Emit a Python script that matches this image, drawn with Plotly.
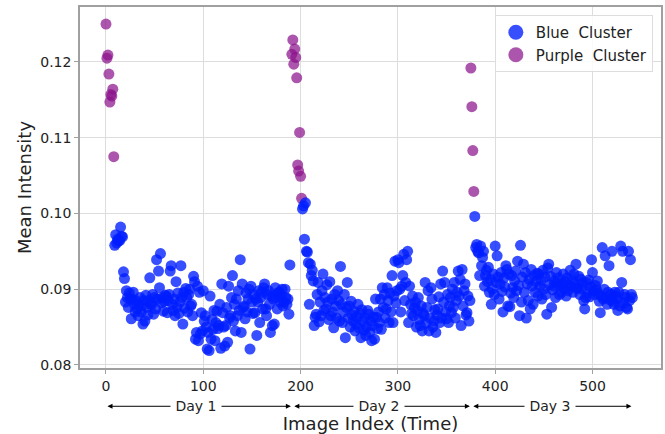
import plotly.graph_objects as go

# ---------------- data ----------------
day1_start = 9
day1_blue = [
    0.0958, 0.0972, 0.0961, 0.0966, 0.0964, 0.0964, 0.0982, 0.0970, 0.0969, 0.0923,
    0.0914, 0.0883, 0.0898, 0.0889, 0.0876, 0.0895, 0.0887, 0.0861, 0.0887, 0.0896,
    0.0880, 0.0870, 0.0885, 0.0874, 0.0865, 0.0880, 0.0889, 0.0870, 0.0878, 0.0854,
    0.0885, 0.0858, 0.0892, 0.0876, 0.0866, 0.0885, 0.0915, 0.0880, 0.0880, 0.0893,
    0.0867, 0.0889, 0.0874, 0.0939, 0.0887, 0.0924, 0.0902, 0.0947, 0.0882, 0.0889,
    0.0871, 0.0884, 0.0892, 0.0891, 0.0869, 0.0885, 0.0893, 0.0924, 0.0931,
    0.0880, 0.0872, 0.0887, 0.0865, 0.0910, 0.0876, 0.0895, 0.0868, 0.0883, 0.0931,
    0.0889, 0.0854, 0.0896, 0.0875, 0.0901, 0.0889, 0.0870, 0.0893, 0.0900, 0.0878,
    0.0880, 0.0865, 0.0917, 0.0910, 0.0834, 0.0843, 0.0904, 0.0832, 0.0896, 0.0841,
    0.0869, 0.0845, 0.0898, 0.0858, 0.0865, 0.0850, 0.0821, 0.0843, 0.0819, 0.0891,
    0.0834, 0.0860, 0.0847, 0.0872, 0.0832, 0.0856, 0.0871, 0.0848, 0.0852, 0.0880,
    0.0822, 0.0907, 0.0869, 0.0850, 0.0825, 0.0852, 0.0876, 0.0830, 0.0904,
    0.0862, 0.0865, 0.0889, 0.0918, 0.0858, 0.0880, 0.0845, 0.0887, 0.0865, 0.0898,
    0.0872, 0.0939, 0.0843, 0.0907, 0.0876, 0.0878, 0.0861, 0.0895, 0.0870, 0.0887,
    0.0900, 0.0821, 0.0904, 0.0883, 0.0868, 0.0893, 0.0869, 0.0887, 0.0839, 0.0883,
    0.0898, 0.0856, 0.0889, 0.0896, 0.0874, 0.0902, 0.0907, 0.0874, 0.0865, 0.0893,
    0.0898, 0.0880, 0.0843, 0.0891, 0.0852, 0.0887, 0.0854, 0.0902, 0.0889,
    0.0874, 0.0895, 0.0896, 0.0883, 0.0891, 0.0900, 0.0878, 0.0883, 0.0900, 0.0889,
    0.0880, 0.0887, 0.0867, 0.0932,
]

day2_start = 202
day2_blue = [
    0.1006, 0.1010, 0.0966, 0.1014, 0.0950, 0.0949, 0.0935, 0.0880, 0.0933, 0.0918,
    0.0925, 0.0911, 0.0852, 0.0863, 0.0867, 0.0893, 0.0909, 0.0857, 0.0883, 0.0865,
    0.0898, 0.0920, 0.0872, 0.0889, 0.0874, 0.0906, 0.0883, 0.0860, 0.0910, 0.0865,
    0.0887, 0.0870, 0.0849, 0.0893, 0.0878, 0.0862, 0.0898, 0.0885, 0.0858,
    0.0930, 0.0880, 0.0856, 0.0870, 0.0893, 0.0836, 0.0876, 0.0909, 0.0862, 0.0878,
    0.0850, 0.0884, 0.0866, 0.0858, 0.0871, 0.0845, 0.0854, 0.0863, 0.0880, 0.0849,
    0.0868, 0.0836, 0.0873, 0.0858, 0.0846, 0.0862, 0.0839, 0.0850, 0.0872, 0.0867,
    0.0843, 0.0858, 0.0832, 0.0852, 0.0863, 0.0834, 0.0887, 0.0863, 0.0848, 0.0870,
    0.0856, 0.0887, 0.0847, 0.0902, 0.0876, 0.0893, 0.0862, 0.0874, 0.0902,
    0.0885, 0.0856, 0.0895, 0.0870, 0.0918, 0.0856, 0.0891, 0.0937, 0.0882, 0.0898,
    0.0939, 0.0935, 0.0900, 0.0870, 0.0904, 0.0918, 0.0946, 0.0885, 0.0909, 0.0939,
    0.0950, 0.0856, 0.0904, 0.0880, 0.0868, 0.0891, 0.0865, 0.0876, 0.0883, 0.0850,
    0.0872, 0.0889, 0.0860, 0.0852, 0.0878, 0.0845, 0.0868, 0.0865, 0.0909, 0.0855,
    0.0876, 0.0898, 0.0845, 0.0862, 0.0902, 0.0887, 0.0850, 0.0858, 0.0873, 0.0843,
    0.0866, 0.0874, 0.0890, 0.0856, 0.0907, 0.0862, 0.0924, 0.0883, 0.0909,
    0.0870, 0.0861, 0.0893, 0.0856, 0.0878, 0.0889, 0.0869, 0.0900, 0.0876, 0.0909,
    0.0862, 0.0885, 0.0896, 0.0924, 0.0891, 0.0913, 0.0852, 0.0926, 0.0878, 0.0898,
    0.0907, 0.0866, 0.0869, 0.0891, 0.0858, 0.0885,
]

day3_start = 379
day3_blue = [
    0.0996, 0.0955, 0.0959, 0.0950, 0.0948, 0.0918, 0.0957, 0.0931, 0.0942, 0.0950,
    0.0904, 0.0918, 0.0925, 0.0910, 0.0929, 0.0896, 0.0913, 0.0880, 0.0900, 0.0920,
    0.0893, 0.0957, 0.0909, 0.0944, 0.0916, 0.0887, 0.0907, 0.0922, 0.0897, 0.0870,
    0.0915, 0.0903, 0.0931, 0.0926, 0.0878, 0.0920, 0.0877, 0.0895, 0.0918,
    0.0902, 0.0889, 0.0911, 0.0924, 0.0898, 0.0937, 0.0905, 0.0865, 0.0958, 0.0883,
    0.0916, 0.0933, 0.0896, 0.0922, 0.0862, 0.0907, 0.0885, 0.0913, 0.0874, 0.0926,
    0.0904, 0.0880, 0.0918, 0.0896, 0.0910, 0.0921, 0.0891, 0.0920, 0.0904, 0.0912,
    0.0887, 0.0925, 0.0900, 0.0916, 0.0893, 0.0867, 0.0928, 0.0933, 0.0906, 0.0917,
    0.0876, 0.0899, 0.0904, 0.0911, 0.0889, 0.0922, 0.0908, 0.0915, 0.0893,
    0.0905, 0.0896, 0.0907, 0.0920, 0.0900, 0.0910, 0.0891, 0.0915, 0.0898, 0.0904,
    0.0925, 0.0904, 0.0912, 0.0896, 0.0920, 0.0908, 0.0933, 0.0901, 0.0902, 0.0917,
    0.0893, 0.0913, 0.0900, 0.0908, 0.0885, 0.0874, 0.0889, 0.0909, 0.0896, 0.0912,
    0.0890, 0.0903, 0.0939, 0.0922, 0.0898, 0.0893, 0.0905, 0.0899, 0.0911,
    0.0894, 0.0884, 0.0869, 0.0891, 0.0955, 0.0887, 0.0900, 0.0944, 0.0889, 0.0880,
    0.0896, 0.0931, 0.0886, 0.0893, 0.0950, 0.0884, 0.0880, 0.0896, 0.0891, 0.0887,
    0.0872, 0.0896, 0.0878, 0.0957, 0.0909, 0.0950, 0.0882, 0.0893, 0.0889, 0.0876,
    0.0874, 0.0950, 0.0885, 0.0939, 0.0893, 0.0889,
]

purple_x = [0, 1, 2, 3, 4, 5, 6, 7, 8,
            191, 192, 193, 194, 195, 196, 197, 198, 199, 200, 201,
            375, 376, 377, 378]
purple_y = [0.1250, 0.1205, 0.1209, 0.1184, 0.1147, 0.1157, 0.1155, 0.1164, 0.1075,
            0.1210, 0.1229, 0.1197, 0.1217, 0.1206, 0.1179, 0.1064, 0.1056, 0.1107, 0.1049, 0.1020,
            0.1192, 0.1141, 0.1083, 0.1029]

day_labels = ["Day 1", "Day 2", "Day 3"]
day_bounds = [(0, 190), (192, 374), (376, 540)]

x_ticks = [0, 100, 200, 300, 400, 500]
y_ticks = [0.08, 0.09, 0.10, 0.11, 0.12]

# ---------------- figure ----------------
blue_x, blue_y = [], []
for start, vals in [(day1_start, day1_blue), (day2_start, day2_blue), (day3_start, day3_blue)]:
    blue_x += [start + i for i in range(len(vals))]
    blue_y += vals

BLUE = "rgba(0,30,255,0.78)"
PURPLE = "rgba(140,20,140,0.72)"
FONT = "DejaVu Sans"

fig = go.Figure()
fig.add_trace(go.Scatter(x=purple_x, y=purple_y, mode="markers",
                         marker=dict(size=11, color=PURPLE, line=dict(width=0)),
                         showlegend=False, hoverinfo="skip"))
fig.add_trace(go.Scatter(x=blue_x, y=blue_y, mode="markers",
                         marker=dict(size=11, color=BLUE, line=dict(width=0)),
                         showlegend=False, hoverinfo="skip"))
# legend entries (larger symbols as in the reference)
fig.add_trace(go.Scatter(x=[None], y=[None], mode="markers", name="Blue  Cluster",
                         marker=dict(size=15, color=BLUE), legendrank=1))
fig.add_trace(go.Scatter(x=[None], y=[None], mode="markers", name="Purple  Cluster",
                         marker=dict(size=15, color=PURPLE), legendrank=2))

annotations = []
arrow_y = -0.106
for label, (a, b) in zip(day_labels, day_bounds):
    annotations.append(dict(x=b, y=arrow_y, xref="x", yref="paper",
                            ax=a, ay=0, axref="x", ayref="pixel",
                            text="", showarrow=True, arrowhead=2, startarrowhead=2,
                            arrowside="end+start", arrowsize=1, startarrowsize=1,
                            arrowwidth=1, arrowcolor="black"))
for label, (a, b) in zip(day_labels, day_bounds):
    annotations.append(dict(x=(a + b) / 2 - 2, y=arrow_y, xref="x", yref="paper",
                            xanchor="center", yanchor="middle",
                            text="\u00a0" + label + "\u00a0", showarrow=False,
                            bgcolor="white", borderpad=0,
                            font=dict(family=FONT, size=14, color="#222")))

axis_common = dict(showgrid=True, gridcolor="#dddddd", gridwidth=1,
                   showline=True, linecolor="#a0a0a0", linewidth=1.5, mirror=True,
                   ticks="outside", ticklen=4, tickcolor="#a0a0a0",
                   zeroline=False, automargin=False,
                   tickfont=dict(family=FONT, size=14, color="#222"))

fig.update_layout(
    width=665, height=434,
    margin=dict(l=80, r=4, t=7, b=66),
    paper_bgcolor="white", plot_bgcolor="white",
    font=dict(family=FONT, color="#222"),
    xaxis=dict(range=[-26.7, 570.4], tickvals=x_ticks,
               title=dict(text="Image Index (Time)", font=dict(family=FONT, size=18, color="#222"),
                          standoff=34),
               **axis_common),
    yaxis=dict(range=[0.0796, 0.12725], tickvals=y_ticks, tickformat=".2f",
               title=dict(text="Mean Intensity", font=dict(family=FONT, size=18, color="#222"),
                          standoff=4),
               **axis_common),
    legend=dict(x=0.986, y=0.978, xanchor="right", yanchor="top",
                bgcolor="rgba(255,255,255,0.85)", bordercolor="#dddddd", borderwidth=1,
                font=dict(family=FONT, size=15, color="#222")),
    annotations=annotations,
    showlegend=True,
)

fig.write_html("out.html")
